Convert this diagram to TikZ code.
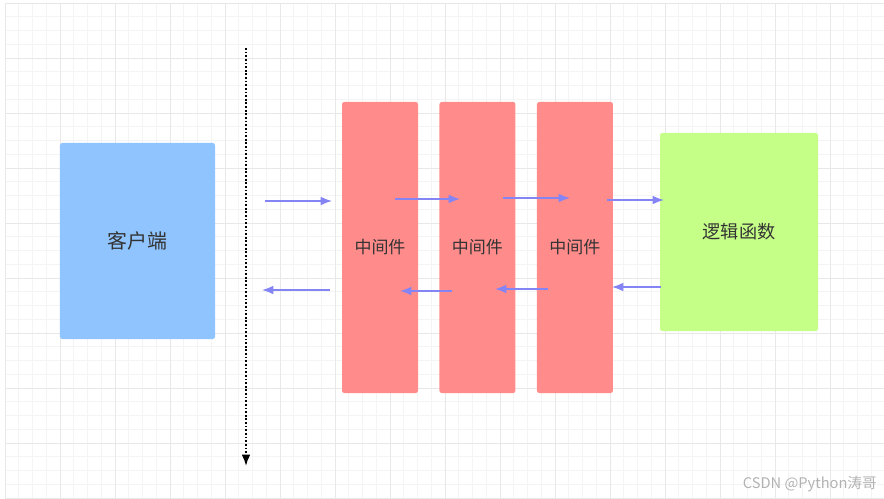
\documentclass[tikz,border=0pt]{standalone}
\usepackage{fontspec}
\setmainfont{Noto Sans CJK SC}
\usetikzlibrary{arrows.meta,positioning}
\definecolor{clientblue}{HTML}{8FC4FF}
\definecolor{mwred}{HTML}{FF8B8B}
\definecolor{logicgreen}{HTML}{C6FF88}
\definecolor{flowblue}{HTML}{8484F4}
\definecolor{gridminor}{HTML}{F4F4F4}
\definecolor{gridmajor}{HTML}{E8E8E8}
\definecolor{labelgray}{HTML}{333333}
\tikzset{
  clientbox/.style={fill=clientblue, rounded corners=2pt, minimum width=4.65cm, minimum height=5.88cm, inner sep=0pt, text=labelgray, font=\fontsize{17pt}{20pt}\selectfont},
  mwbox/.style={fill=mwred, rounded corners=2pt, minimum width=2.28cm, minimum height=8.73cm, inner sep=0pt, text=labelgray, font=\fontsize{14.5pt}{17pt}\selectfont},
  logicbox/.style={fill=logicgreen, rounded corners=2pt, minimum width=4.74cm, minimum height=5.94cm, inner sep=0pt, text=labelgray, font=\fontsize{15.5pt}{18pt}\selectfont},
  flow/.style={-{Latex[length=3.4mm,width=2.6mm]}, line width=1.2pt, draw=flowblue, fill=flowblue},
  timeline/.style={-{Latex[length=3.4mm,width=2.6mm]}, line width=1.5pt, dash pattern=on 1.5pt off 1.6pt},
  mark label/.style={text=black!30, font=\fontsize{12.5pt}{15pt}\selectfont, inner sep=0pt}
}
\begin{document}
\begin{tikzpicture}[x=0.03cm, y=-0.03cm, node distance=0.63cm]
  \useasboundingbox (0,0) rectangle (884,499);
  % background grid
  \foreach \k in {0,...,63} {
    \draw[gridminor, line width=0.5pt] ({5+13.75*\k},3) -- ({5+13.75*\k},499);
  }
  \foreach \k in {0,...,35} {
    \draw[gridminor, line width=0.5pt] (5,{3+13.75*\k}) -- (884,{3+13.75*\k});
  }
  \foreach \k in {0,...,15} {
    \draw[gridmajor, line width=0.6pt] ({5+55*\k},3) -- ({5+55*\k},499);
  }
  \foreach \k in {0,...,9} {
    \draw[gridmajor, line width=0.6pt] (5,{3+55*\k}) -- (884,{3+55*\k});
  }

  \node[clientbox] (client) at (137.5,241) {客户端};
  \node[mwbox] (mw1) at (380,247.5) {中间件};
  \node[mwbox, right=of mw1] (mw2) {中间件};
  \node[mwbox, right=of mw2] (mw3) {中间件};
  \node[logicbox] (logic) at (739,232) {逻辑函数};

  % time line
  \coordinate (tltop) at (246,48);
  \coordinate (tlbot) at (246,466);
  \draw[timeline] (tltop) -- (tlbot);

  % request
  \coordinate (req0) at (265,201);
  \coordinate (req1) at (332,201);
  \coordinate (req2) at (395,199);
  \coordinate (req3) at (460,199);
  \coordinate (req4) at (503,198);
  \coordinate (req5) at (570,198);
  \coordinate (req6) at (607,200);
  \coordinate (req7) at (664,200);
  \draw[flow] (req0) -- (req1);
  \draw[flow] (req2) -- (req3);
  \draw[flow] (req4) -- (req5);
  \draw[flow] (req6) -- (req7);

  % response
  \coordinate (res0) at (661,287);
  \coordinate (res1) at (612,287);
  \coordinate (res2) at (548,289);
  \coordinate (res3) at (495,289);
  \coordinate (res4) at (452,291);
  \coordinate (res5) at (400,291);
  \coordinate (res6) at (330,290);
  \coordinate (res7) at (262,290);
  \draw[flow] (res0) -- (res1);
  \draw[flow] (res2) -- (res3);
  \draw[flow] (res4) -- (res5);
  \draw[flow] (res6) -- (res7);

  \node[mark label, anchor=east] (mark) at (877,484) {CSDN @Python涛哥};
\end{tikzpicture}
\end{document}
